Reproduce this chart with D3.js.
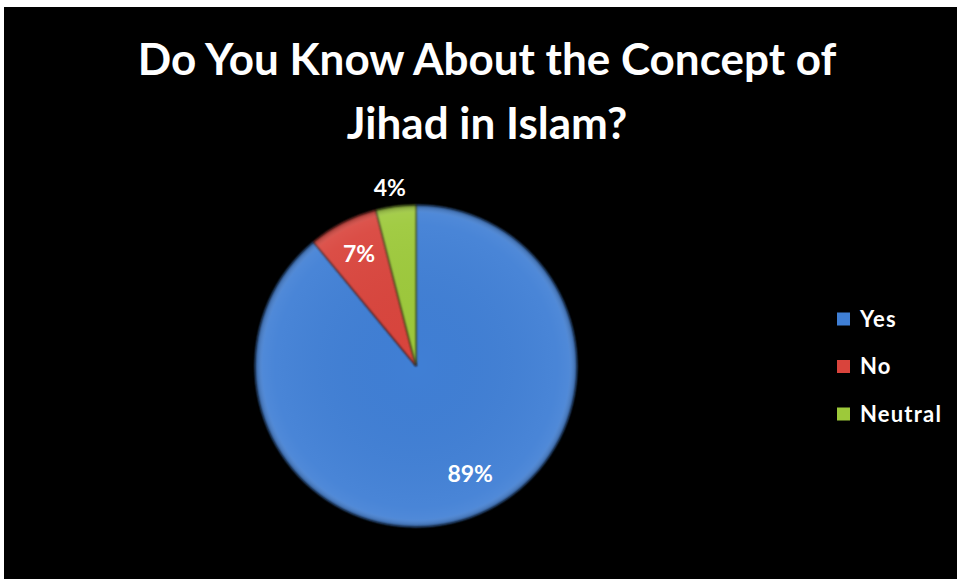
<!DOCTYPE html>
<html>
<head>
<meta charset="utf-8">
<script src="https://cdn.jsdelivr.net/npm/d3@7"></script>
<style>
  html, body { margin: 0; padding: 0; background: #ffffff; }
  svg { display: block; }
</style>
</head>
<body>
<script>
// Survey responses
const categories = ["Yes", "No", "Neutral"];
const values = [89, 7, 4];
const labels = ["89%", "7%", "4%"];
const colors = ["#3f7fd5", "#d9443c", "#9dc93a"];
const titleLines = ["Do You Know About the Concept of", "Jihad in Islam?"];

const W = 957, H = 579;
const svg = d3.select("body").append("svg").attr("width", W).attr("height", H);

// Dark plot panel inside a thin white margin
svg.append("rect").attr("x", 4).attr("y", 7).attr("width", W - 4).attr("height", H - 7).attr("fill", "#000");

const defs = svg.append("defs");
// Soft bevel shading on each slice
const shade = defs.append("radialGradient").attr("id", "shade")
  .attr("gradientUnits", "userSpaceOnUse").attr("cx", 0).attr("cy", 0).attr("r", 161);
shade.append("stop").attr("offset", "0%").attr("stop-color", "#000").attr("stop-opacity", 0.0);
shade.append("stop").attr("offset", "88%").attr("stop-color", "#fff").attr("stop-opacity", 0.05);
shade.append("stop").attr("offset", "95%").attr("stop-color", "#fff").attr("stop-opacity", 0.08);
shade.append("stop").attr("offset", "100%").attr("stop-color", "#000").attr("stop-opacity", 0.3);

const blur = defs.append("filter").attr("id", "soft").attr("x", "-5%").attr("y", "-5%").attr("width", "110%").attr("height", "110%");
blur.append("feGaussianBlur").attr("stdDeviation", 0.8);

const font = "Lato, 'Open Sans', sans-serif";

// Title
svg.append("g").selectAll("text").data(titleLines).join("text")
  .attr("x", 487)
  .attr("y", (d, i) => 75 + i * 64)
  .attr("text-anchor", "middle")
  .attr("fill", "#fff")
  .attr("font-family", font)
  .attr("font-weight", "bold")
  .attr("font-size", 44)
  .text(d => d);

// Pie
const cx = 416, cy = 366, R = 161;
const pie = d3.pie().sort(null).value(d => d)(values);
const arc = d3.arc().innerRadius(0).outerRadius(R);
const g = svg.append("g").attr("transform", `translate(${cx},${cy})`);

g.selectAll("path.slice").data(pie).join("path")
  .attr("class", "slice")
  .attr("d", arc)
  .attr("fill", (d, i) => colors[i])
  .attr("stroke", "#1a1a1a")
  .attr("stroke-width", 0.6)
  .attr("filter", "url(#soft)");

g.selectAll("path.shade").data(pie).join("path")
  .attr("class", "shade")
  .attr("d", arc)
  .attr("fill", "url(#shade)");

// Value labels: inside the slice, or just outside for the thin one
const labelRadius = [0.75, 0.78, 1.12];
const labelTurn = [-0.12, 0, -0.02]; // small angular nudge (radians)
function labelPos(d, i) {
  const a = (d.startAngle + d.endAngle) / 2 + labelTurn[i];
  const r = R * labelRadius[i];
  return [Math.sin(a) * r, -Math.cos(a) * r];
}
g.selectAll("text.lbl").data(pie).join("text")
  .attr("class", "lbl")
  .attr("transform", (d, i) => `translate(${labelPos(d, i)})`)
  .attr("text-anchor", "middle")
  .attr("dy", "0.35em")
  .attr("fill", "#fff")
  .attr("font-family", font)
  .attr("font-weight", "bold")
  .attr("font-size", 23)
  .text((d, i) => labels[i]);

// Legend
const leg = svg.append("g").attr("transform", "translate(837,319)");
const item = leg.selectAll("g").data(categories).join("g")
  .attr("transform", (d, i) => `translate(0,${i * 47.5})`);
item.append("rect").attr("x", 0).attr("y", -6.5).attr("width", 13).attr("height", 13)
  .attr("fill", (d, i) => colors[i]);
item.append("text").attr("x", 23).attr("dy", "0.35em")
  .attr("fill", "#fff")
  .attr("font-family", font)
  .attr("font-weight", "bold")
  .attr("font-size", 22)
  .attr("letter-spacing", 1.2)
  .text(d => d);
</script>
</body>
</html>
